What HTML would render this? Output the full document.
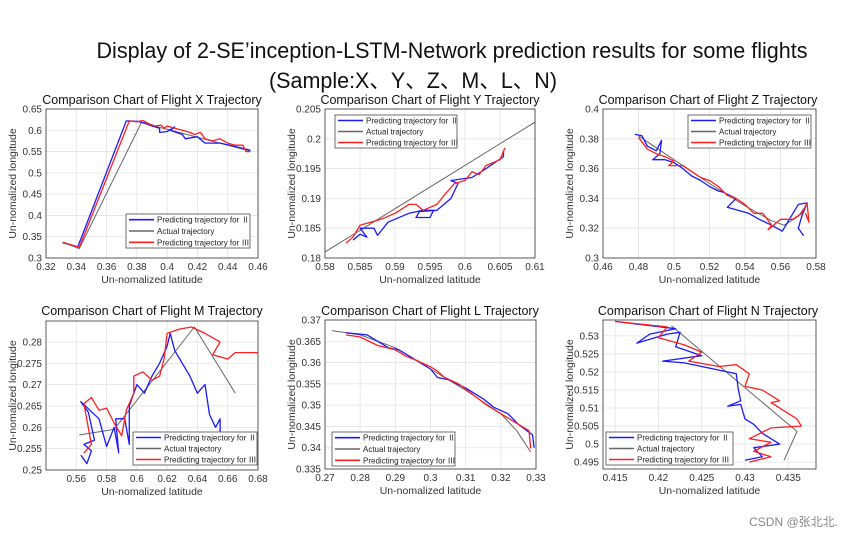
<!DOCTYPE html>
<html><head><meta charset="utf-8"><style>
html,body{margin:0;padding:0;background:#fff;}
svg{display:block;font-family:"Liberation Sans","Noto Sans CJK SC",sans-serif;}
</style></head><body>
<svg id="fig" width="852" height="539" viewBox="0 0 852 539" xmlns="http://www.w3.org/2000/svg">
<text x="452" y="58" font-size="22" text-anchor="middle" textLength="711" lengthAdjust="spacingAndGlyphs" fill="#111">Display of 2-SE’inception-LSTM-Network prediction results for some flights</text>
<text x="413" y="88" font-size="22" text-anchor="middle" textLength="288" lengthAdjust="spacingAndGlyphs" fill="#111">(Sample:X、Y、Z、M、L、N)</text>
<text x="838" y="526" font-size="12" text-anchor="end" fill="#888">CSDN @张北北.</text>
</svg>
<script>
// ---- Panel X ----
const xActualX=[0.331,0.342,0.383,0.455];
const xActualY=[0.337,0.322,0.618,0.551];
const xBlueX=[0.331,0.341,0.373,0.380,0.385,0.390,0.395,0.395,0.400,0.405,0.402,0.410,0.412,0.420,0.425,0.435,0.445,0.455];
const xBlueY=[0.336,0.326,0.622,0.621,0.617,0.610,0.605,0.595,0.597,0.608,0.600,0.590,0.580,0.585,0.570,0.570,0.562,0.553];
const xRedX=[0.331,0.342,0.375,0.380,0.384,0.388,0.392,0.396,0.398,0.400,0.405,0.410,0.415,0.418,0.422,0.425,0.430,0.435,0.440,0.445,0.450,0.452,0.455];
const xRedY=[0.337,0.325,0.622,0.620,0.623,0.615,0.610,0.612,0.605,0.610,0.605,0.600,0.595,0.590,0.595,0.580,0.575,0.580,0.570,0.565,0.565,0.550,0.550];
const xTicksX=["0.32","0.34","0.36","0.38","0.4","0.42","0.44","0.46"];
const xTicksY=["0.3","0.35","0.4","0.45","0.5","0.55","0.6","0.65"];
// ---- Panel Y ----
const yActualX=[0.58,0.61];
const yActualY=[0.181,0.2028];
const yBlueX=[0.584,0.585,0.586,0.585,0.587,0.5875,0.589,0.592,0.594,0.5955,0.595,0.593,0.5935,0.596,0.598,0.599,0.598,0.601,0.603,0.6055,0.6055];
const yBlueY=[0.183,0.184,0.1835,0.185,0.185,0.1838,0.186,0.1875,0.188,0.188,0.1868,0.1868,0.1878,0.188,0.190,0.1925,0.193,0.1935,0.195,0.197,0.198];
const yRedX=[0.583,0.584,0.585,0.588,0.590,0.592,0.593,0.594,0.596,0.597,0.5985,0.600,0.601,0.602,0.603,0.605,0.6057];
const yRedY=[0.1825,0.1835,0.1855,0.1865,0.1875,0.189,0.189,0.188,0.189,0.1905,0.1925,0.193,0.1945,0.194,0.1955,0.1965,0.1985];
const yTicksX=["0.58","0.585","0.59","0.595","0.6","0.605","0.61"];
const yTicksY=["0.18","0.185","0.19","0.195","0.2","0.205"];
// ---- Panel Z ----
const zActualX=[0.48,0.50,0.52,0.54,0.555,0.562,0.570,0.573];
const zActualY=[0.382,0.366,0.350,0.335,0.325,0.322,0.328,0.333];
const zBlueX=[0.478,0.482,0.485,0.490,0.493,0.492,0.488,0.495,0.500,0.505,0.510,0.515,0.520,0.525,0.528,0.535,0.530,0.536,0.542,0.548,0.555,0.558,0.561,0.565,0.570,0.575,0.572,0.570,0.573];
const zBlueY=[0.383,0.382,0.375,0.372,0.379,0.370,0.366,0.366,0.364,0.360,0.355,0.352,0.348,0.345,0.344,0.340,0.334,0.332,0.330,0.326,0.322,0.320,0.318,0.326,0.336,0.337,0.328,0.320,0.315];
const zRedX=[0.480,0.485,0.490,0.495,0.500,0.497,0.505,0.510,0.515,0.520,0.525,0.530,0.535,0.540,0.545,0.550,0.555,0.553,0.560,0.567,0.572,0.575,0.576,0.574];
const zRedY=[0.381,0.373,0.370,0.368,0.365,0.362,0.362,0.358,0.354,0.352,0.348,0.342,0.340,0.336,0.330,0.330,0.322,0.319,0.326,0.326,0.330,0.337,0.324,0.330];
const zTicksX=["0.46","0.48","0.5","0.52","0.54","0.56","0.58"];
const zTicksY=["0.3","0.32","0.34","0.36","0.38","0.4"];
// ---- Panel M ----
const mActualX=[0.562,0.585,0.638,0.665];
const mActualY=[0.2582,0.2595,0.2835,0.268];
const mBlueX=[0.563,0.567,0.570,0.565,0.572,0.568,0.563,0.575,0.580,0.585,0.588,0.586,0.592,0.595,0.595,0.600,0.605,0.610,0.615,0.620,0.622,0.625,0.630,0.635,0.640,0.645,0.648,0.652,0.655,0.655];
const mBlueY=[0.2535,0.2515,0.2545,0.256,0.257,0.2635,0.266,0.262,0.2555,0.260,0.254,0.262,0.262,0.256,0.265,0.270,0.268,0.272,0.275,0.279,0.282,0.278,0.275,0.272,0.268,0.270,0.263,0.260,0.262,0.258];
const mRedX=[0.565,0.570,0.565,0.570,0.575,0.580,0.585,0.590,0.593,0.598,0.598,0.604,0.610,0.615,0.618,0.620,0.628,0.636,0.645,0.655,0.650,0.660,0.665,0.680];
const mRedY=[0.254,0.256,0.2655,0.267,0.264,0.2645,0.261,0.258,0.264,0.268,0.272,0.273,0.271,0.272,0.276,0.282,0.283,0.2835,0.282,0.280,0.277,0.276,0.2775,0.2775];
const mTicksX=["0.56","0.58","0.6","0.62","0.64","0.66","0.68"];
const mTicksY=["0.25","0.255","0.26","0.265","0.27","0.275","0.28"];
// ---- Panel L ----
const lActualX=[0.272,0.280,0.290,0.300,0.310,0.320,0.3245,0.3285];
const lActualY=[0.3675,0.3665,0.3635,0.3585,0.3535,0.348,0.344,0.339];
const lBlueX=[0.276,0.282,0.288,0.291,0.295,0.300,0.302,0.305,0.310,0.315,0.318,0.322,0.325,0.329,0.3295];
const lBlueY=[0.367,0.3665,0.3635,0.363,0.361,0.3585,0.3565,0.356,0.354,0.3515,0.3495,0.348,0.3455,0.343,0.340];
const lRedX=[0.276,0.280,0.285,0.290,0.293,0.296,0.300,0.302,0.304,0.308,0.312,0.316,0.320,0.325,0.328,0.3285];
const lRedY=[0.3665,0.366,0.364,0.363,0.3615,0.3605,0.359,0.358,0.3565,0.355,0.3525,0.350,0.348,0.3455,0.344,0.3398];
const lTicksX=["0.27","0.28","0.29","0.3","0.31","0.32","0.33"];
const lTicksY=["0.335","0.34","0.345","0.35","0.355","0.36","0.365","0.37"];
// ---- Panel N ----
const nActualX=[0.4215,0.436,0.4345];
const nActualY=[0.5328,0.5035,0.4955];
const nBlueX=[0.415,0.422,0.419,0.4175,0.421,0.4225,0.422,0.425,0.4205,0.423,0.427,0.429,0.4292,0.4295,0.428,0.4295,0.430,0.431,0.432,0.434,0.431,0.432,0.430];
const nBlueY=[0.534,0.532,0.5305,0.528,0.5305,0.531,0.527,0.5245,0.523,0.5225,0.5205,0.5195,0.5155,0.512,0.5105,0.511,0.507,0.5055,0.503,0.500,0.499,0.4965,0.4955];
const nRedX=[0.415,0.421,0.420,0.423,0.425,0.4235,0.427,0.429,0.4305,0.430,0.432,0.434,0.433,0.436,0.4365,0.433,0.4305,0.433,0.431,0.433,0.4305];
const nRedY=[0.534,0.5325,0.5295,0.5275,0.5255,0.523,0.5215,0.522,0.5195,0.516,0.515,0.512,0.5115,0.507,0.505,0.5045,0.5015,0.5005,0.498,0.4965,0.495];
const nTicksX=["0.415","0.42","0.425","0.43","0.435"];
const nTicksY=["0.495","0.5","0.505","0.51","0.515","0.52","0.525","0.53"];

const NS="http://www.w3.org/2000/svg";
const svg=document.getElementById('fig');
function mk(tag,attrs,parent){const e=document.createElementNS(NS,tag);for(const k in attrs)e.setAttribute(k,attrs[k]);(parent||svg).appendChild(e);return e;}

const panels=[
 {id:'x',title:'Comparison Chart of Flight X Trajectory',box:[46,109,258,258],dx:[0.32,0.46],dy:[0.3,0.65],tx:xTicksX,ty:xTicksY,ax:xActualX,ay:xActualY,bx:xBlueX,by:xBlueY,rx:xRedX,ry:xRedY,leg:[126,214,250,248],tt:[152,104]},
 {id:'y',title:'Comparison Chart of Flight Y Trajectory',box:[325,109,535,258],dx:[0.58,0.61],dy:[0.18,0.205],tx:yTicksX,ty:yTicksY,ax:yActualX,ay:yActualY,bx:yBlueX,by:yBlueY,rx:yRedX,ry:yRedY,leg:[335,115,457,148],tt:[430,104]},
 {id:'z',title:'Comparison Chart of Flight Z Trajectory',box:[603,109,816,258],dx:[0.46,0.58],dy:[0.3,0.4],tx:zTicksX,ty:zTicksY,ax:zActualX,ay:zActualY,bx:zBlueX,by:zBlueY,rx:zRedX,ry:zRedY,leg:[688,115,811,148],tt:[708,104]},
 {id:'m',title:'Comparison Chart of Flight M Trajectory',box:[46,321,258,470],dx:[0.54,0.68],dy:[0.25,0.2849],tx:mTicksX,ty:mTicksY,ax:mActualX,ay:mActualY,bx:mBlueX,by:mBlueY,rx:mRedX,ry:mRedY,leg:[133,432,257,465],tt:[152,315]},
 {id:'l',title:'Comparison Chart of Flight L Trajectory',box:[325,320,536,469],dx:[0.27,0.33],dy:[0.335,0.37],tx:lTicksX,ty:lTicksY,ax:lActualX,ay:lActualY,bx:lBlueX,by:lBlueY,rx:lRedX,ry:lRedY,leg:[332,432,455,466],tt:[430,315]},
 {id:'n',title:'Comparison Chart of Flight N Trajectory',box:[603,320,816,469],dx:[0.4136,0.4382],dy:[0.4931,0.5344],tx:nTicksX,ty:nTicksY,ax:nActualX,ay:nActualY,bx:nBlueX,by:nBlueY,rx:nRedX,ry:nRedY,leg:[606,432,733,465],tt:[708,315]}
];

panels.forEach(p=>{
 const [x0,y0,x1,y1]=p.box;
 const sx=v=>x0+(v-p.dx[0])/(p.dx[1]-p.dx[0])*(x1-x0);
 const sy=v=>y1-(v-p.dy[0])/(p.dy[1]-p.dy[0])*(y1-y0);
 const g=mk('g',{});
 
 
 const bg=mk('rect',{x:x0,y:y0,width:x1-x0,height:y1-y0,fill:'#fff'},g);
 
 
 p.tx.forEach(t=>{const X=sx(parseFloat(t));
  const gl=mk('line',{x1:X,y1:y0,x2:X,y2:y1,stroke:'#e3e3e3','stroke-width':0.8},g);
  
  
  const lb=mk('text',{x:X,y:y1+12,'font-size':10,'text-anchor':'middle',fill:'#333'},g);lb.textContent=t;
  
  });
 p.ty.forEach(t=>{const Y=sy(parseFloat(t));
  const gl=mk('line',{x1:x0,y1:Y,x2:x1,y2:Y,stroke:'#e3e3e3','stroke-width':0.8},g);
  
  
  const lb=mk('text',{x:x0-4,y:Y+3.5,'font-size':10,'text-anchor':'end',fill:'#333'},g);lb.textContent=t;
  
  });
 const clipId='clip-'+p.id;
 const cp=mk('clipPath',{id:clipId},g);mk('rect',{x:x0,y:y0,width:x1-x0,height:y1-y0},cp);
 const series=[[p.ax,p.ay,'#666','actual-trajectory',1],[p.bx,p.by,'#1a1aff','predicted-trajectory-ii',1.3],[p.rx,p.ry,'#ff2020','predicted-trajectory-iii',1.3]];
 series.forEach(s=>{
  const pts=s[0].map((v,i)=>sx(v).toFixed(1)+','+sy(s[1][i]).toFixed(1)).join(' ');
  const pl=mk('polyline',{points:pts,fill:'none',stroke:s[2],'stroke-width':s[4],'clip-path':'url(#'+clipId+')','stroke-linejoin':'round'},g);
  
  });
 const fr=mk('rect',{x:x0,y:y0,width:x1-x0,height:y1-y0,fill:'none',stroke:'#333','stroke-width':0.8},g);
 
 
 const ti=mk('text',{x:p.tt[0],y:p.tt[1],'font-size':12.5,'text-anchor':'middle',fill:'#111'},g);ti.textContent=p.title;
 
 
 const xl=mk('text',{x:(x0+x1)/2,y:y1+25,'font-size':10.5,'text-anchor':'middle',fill:'#333'},g);xl.textContent='Un-nomalized latitude';
 
 
 const yl=mk('text',{x:0,y:0,'font-size':10.5,'text-anchor':'middle',fill:'#333',transform:'translate('+(x0-30)+','+((y0+y1)/2)+') rotate(-90)'},g);yl.textContent='Un-nomalized longitude';
 
 
 const [lx0,ly0,lx1,ly1]=p.leg;
 const lg=mk('g',{},g);
 
 
 mk('rect',{x:lx0,y:ly0,width:lx1-lx0,height:ly1-ly0,fill:'#fff',stroke:'#333','stroke-width':0.7},lg);
 const labels=[['#1a1aff','Predicting trajectory for Ⅱ'],['#666','Actual trajectory'],['#ff2020','Predicting trajectory for Ⅲ']];
 const rh=(ly1-ly0)/3;
 labels.forEach((l,i)=>{const Y=ly0+rh*(i+0.5);
  const e=mk('g',{},lg);
  
  
  mk('line',{x1:lx0+3,y1:Y,x2:lx0+28,y2:Y,stroke:l[0],'stroke-width':1.6},e);
  const t=mk('text',{x:lx0+31,y:Y+3,'font-size':8,fill:'#222'},e);t.textContent=l[1];});
});
</script>
</body></html>
